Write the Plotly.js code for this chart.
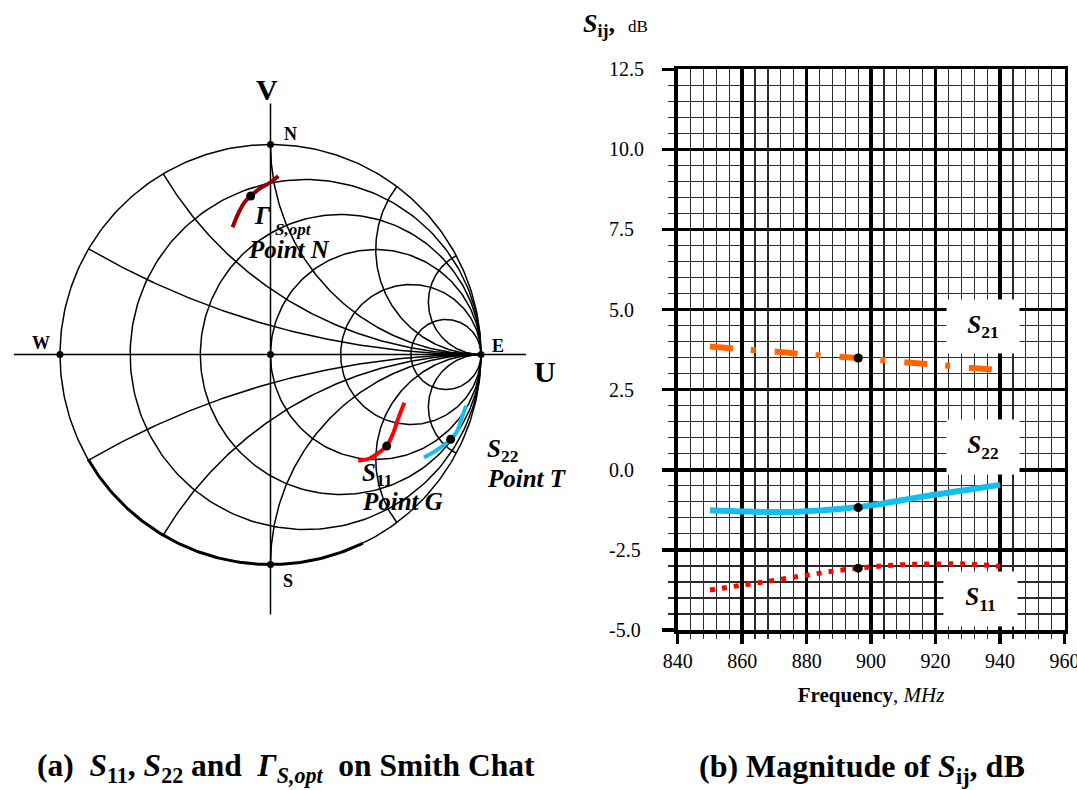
<!DOCTYPE html>
<html>
<head>
<meta charset="utf-8">
<script src="https://cdn.plot.ly/plotly-3.0.1.min.js"></script>
<style>
  html, body { margin: 0; padding: 0; background: #fff; }
  #chart { width: 1077px; height: 790px; }
</style>
</head>
<body>
<div id="chart"></div>
<script>
// ---------- Smith chart grid ----------
const resistanceCircles = [0.2, 0.5, 1, 2, 5];
const reactanceArcs = [0.27, 0.57, 1, 2, 4];

// compass points on the chart: N, S, E, W and the centre
const compassRe = [0, 0, 1, -1, 0];
const compassIm = [1, -1, 0, 0, 0];

// reflection-coefficient loci (real part, imaginary part)
const gammaOptRe = [-0.180, -0.153, -0.121, -0.094, -0.050, -0.002, 0.037];
const gammaOptIm = [0.606, 0.672, 0.728, 0.755, 0.791, 0.818, 0.850];
const s11Re = [0.417, 0.473, 0.520, 0.552, 0.583, 0.607, 0.636];
const s11Im = [-0.506, -0.494, -0.463, -0.436, -0.375, -0.304, -0.230];
const s22Re = [0.729, 0.790, 0.856, 0.885, 0.908, 0.929];
const s22Im = [-0.490, -0.455, -0.404, -0.368, -0.304, -0.245];

// operating points N (Gamma S,opt), G (S11), T (S22)
const pointRe = [-0.094, 0.552, 0.856];
const pointIm = [0.755, -0.436, -0.404];

// ---------- magnitude versus frequency ----------
const freqMHz = [850, 860, 870, 880, 890, 900, 910, 920, 930, 940];
const s21dB = [3.85, 3.76, 3.69, 3.60, 3.53, 3.46, 3.36, 3.28, 3.19, 3.11];
const s22dB = [-1.26, -1.30, -1.32, -1.29, -1.22, -1.11, -0.94, -0.77, -0.62, -0.47];
const s11dB = [-3.75, -3.60, -3.45, -3.29, -3.14, -3.03, -2.96, -2.94, -2.94, -3.01];

const markFreq = [896, 896, 896];
const markDB = [3.49, -1.18, -3.07];

const freqTicks = [840, 860, 880, 900, 920, 940, 960];
const dbTicks = [-5, -2.5, 0, 2.5, 5, 7.5, 10, 12.5];
const dbTickText = ['-5.0', '-2.5', '0.0', '2.5', '5.0', '7.5', '10.0', '12.5'];

// ---------- page geometry ----------
const W = 1077, H = 790;
const SERIF = "'Liberation Serif', 'Times New Roman', serif";
const px = v => v / W;          // pixel column -> paper x
const py = v => 1 - v / H;      // pixel row -> paper y

// Smith chart frame: centre pixel and pixels per unit of |Gamma|
const SC = { cx: 270.5, cy: 354.5, kx: 210.5, ky: 210, left: 0, right: 560, top: 70, bottom: 640 };

function arc(cx, cy, r, a0, a1, n) {
  const pts = [];
  for (let i = 0; i <= n; i++) {
    const a = a0 + (a1 - a0) * i / n;
    pts.push([cx + r * Math.cos(a), cy + r * Math.sin(a)]);
  }
  return pts;
}

const gridX = [], gridY = [];
function addPath(pts) {
  pts.forEach(p => { gridX.push(p[0]); gridY.push(p[1]); });
  gridX.push(null); gridY.push(null);
}
// outer boundary |Gamma| = 1
addPath(arc(0, 0, 1, 0, 2 * Math.PI, 360));
// constant-resistance circles
resistanceCircles.forEach(r => addPath(arc(r / (1 + r), 0, 1 / (1 + r), 0, 2 * Math.PI, 240)));
// constant-reactance arcs, from the rim to the open-circuit point
reactanceArcs.forEach(x => {
  const bx = (x * x - 1) / (x * x + 1), by = 2 * x / (x * x + 1);
  let a0 = Math.atan2(by - 1 / x, bx - 1);
  if (a0 < 0) a0 += 2 * Math.PI;
  const upper = arc(1, 1 / x, 1 / x, a0, 1.5 * Math.PI, 160);
  addPath(upper);
  addPath(upper.map(p => [p[0], -p[1]]));
});
// real (U) and imaginary (V) axes
const uAxisSpan = [-1.219, 1.214];
const vAxisSpan = [-1.238, 1.195];
addPath([[uAxisSpan[0], 0], [uAxisSpan[1], 0]]);
addPath([[0, vAxisSpan[0]], [0, vAxisSpan[1]]]);

const rimHeavy = arc(0, 0, 1, 210 * Math.PI / 180, 296 * Math.PI / 180, 120);

const traces = [
  { x: gridX, y: gridY, xaxis: 'x', yaxis: 'y', mode: 'lines', line: { color: '#000', width: 1.5 },
    hoverinfo: 'skip', showlegend: false },
  { x: rimHeavy.map(p => p[0]), y: rimHeavy.map(p => p[1]), xaxis: 'x', yaxis: 'y', mode: 'lines',
    line: { color: '#000', width: 3 }, hoverinfo: 'skip', showlegend: false },
  { x: compassRe, y: compassIm, xaxis: 'x', yaxis: 'y', mode: 'markers',
    marker: { color: '#000', size: 7 }, hoverinfo: 'skip', showlegend: false },
  { x: gammaOptRe, y: gammaOptIm, xaxis: 'x', yaxis: 'y', mode: 'lines', name: 'Γ S,opt',
    line: { color: '#990000', width: 4, shape: 'spline' }, showlegend: false },
  { x: s11Re, y: s11Im, xaxis: 'x', yaxis: 'y', mode: 'lines', name: 'S11',
    line: { color: '#ff0000', width: 4, shape: 'spline' }, showlegend: false },
  { x: s22Re, y: s22Im, xaxis: 'x', yaxis: 'y', mode: 'lines', name: 'S22',
    line: { color: '#13bff0', width: 4, shape: 'spline' }, showlegend: false },
  { x: pointRe, y: pointIm, xaxis: 'x', yaxis: 'y', mode: 'markers',
    marker: { color: '#000', size: 9 }, showlegend: false },

  { x: freqMHz, y: s21dB, xaxis: 'x2', yaxis: 'y2', mode: 'lines', name: 'S21',
    line: { color: '#ff6600', width: 6, dash: '23px,18px,5px,19px', shape: 'spline' }, showlegend: false },
  { x: freqMHz, y: s22dB, xaxis: 'x2', yaxis: 'y2', mode: 'lines', name: 'S22',
    line: { color: '#13bff0', width: 6, shape: 'spline' }, showlegend: false },
  { x: freqMHz, y: s11dB, xaxis: 'x2', yaxis: 'y2', mode: 'lines', name: 'S11',
    line: { color: '#ff0000', width: 5, dash: '5px,7px', shape: 'spline' }, showlegend: false },
  { x: markFreq, y: markDB, xaxis: 'x2', yaxis: 'y2', mode: 'markers',
    marker: { color: '#000', size: 9 }, showlegend: false }
];

const label = (t, size, x, y, extra) => Object.assign({
  text: t, xref: 'paper', yref: 'paper', x: px(x), y: py(y), showarrow: false,
  xanchor: 'center', yanchor: 'middle', font: { family: SERIF, size: size, color: '#000' }
}, extra || {});

const annotations = [
  // Smith chart letters
  label('<b>V</b>', 30, 267, 89),
  label('<b>U</b>', 30, 545, 371),
  label('<b>N</b>', 18, 291, 134),
  label('<b>E</b>', 18, 498, 346),
  label('<b>W</b>', 18, 41, 343),
  label('<b>S</b>', 18, 288, 581),
  label('<b><i>Γ</i></b>', 25, 252, 215, { xanchor: 'left' }),
  label('<b><i>S,opt</i></b>', 17, 273, 229, { xanchor: 'left' }),
  label('<b><i>Point N</i></b>', 25, 246, 249, { xanchor: 'left' }),
  label('<b><i>S</i><sub>11</sub></b>', 25, 360, 474, { xanchor: 'left' }),
  label('<b><i>Point G</i></b>', 25, 360, 501, { xanchor: 'left' }),
  label('<b><i>S</i><sub>22</sub></b>', 25, 485, 450, { xanchor: 'left' }),
  label('<b><i>Point T</i></b>', 25, 485, 478, { xanchor: 'left' }),

  // series labels on white panels
  label('<b><i>S</i><sub>21</sub></b>', 25, 982.5, 326.5, { bgcolor: '#fff', width: 72, height: 53, borderpad: 0 }),
  label('<b><i>S</i><sub>22</sub></b>', 25, 982.5, 447, { bgcolor: '#fff', width: 72, height: 54, borderpad: 0 }),
  label('<b><i>S</i><sub>11</sub></b>', 25, 980.5, 599, { bgcolor: '#fff', width: 73, height: 54, borderpad: 0 }),

  // value axis heading
  label('<b><i>S</i><sub>ij</sub>,</b>\u00a0 <span style="font-size:17px">dB</span>', 26, 581, 25, { xanchor: 'left' }),

  // panel captions
  label('<b>(a)\u00a0 <i>S</i><sub>11</sub>, <i>S</i><sub>22</sub> and\u00a0 <i>Γ</i><sub><i>S,opt</i></sub>\u00a0 on Smith Chat</b>', 31.5, 286, 768),
  label('<b>(b) Magnitude of <i>S</i><sub>ij</sub>, dB</b>', 32, 861.5, 768)
];

// value-axis labels, left aligned in their column
dbTicks.forEach((v, i) => {
  annotations.push({
    text: dbTickText[i], xref: 'paper', yref: 'y2', x: px(607), y: v, showarrow: false,
    xanchor: 'left', yanchor: 'middle', font: { family: SERIF, size: 20, color: '#000' }
  });
});

const major = { color: '#000', width: 3.5 };
const minor = { color: '#2a2a2a', width: 1.2 };

const layout = {
  width: W, height: H, autosize: false,
  margin: { l: 0, r: 0, t: 0, b: 0 },
  paper_bgcolor: '#fff', plot_bgcolor: 'rgba(0,0,0,0)',
  showlegend: false,
  xaxis: {
    domain: [px(SC.left), px(SC.right)],
    range: [(SC.left - SC.cx) / SC.kx, (SC.right - SC.cx) / SC.kx],
    visible: false, fixedrange: true
  },
  yaxis: {
    domain: [py(SC.bottom), py(SC.top)],
    range: [(SC.cy - SC.bottom) / SC.ky, (SC.cy - SC.top) / SC.ky],
    visible: false, fixedrange: true
  },
  xaxis2: {
    anchor: 'y2', domain: [px(677.7), px(1064.5)], range: [840, 960],
    tickmode: 'array', tickvals: freqTicks,
    showgrid: true, gridcolor: major.color, gridwidth: major.width,
    showline: true, mirror: true, linecolor: '#000', linewidth: major.width,
    ticks: 'outside', ticklen: 10, tickwidth: major.width, tickcolor: '#000',
    zeroline: false, ticklabeloverflow: 'allow',
    tickfont: { family: SERIF, size: 20, color: '#000' },
    minor: { tickmode: 'linear', tick0: 840, dtick: 4, showgrid: true,
             gridcolor: minor.color, gridwidth: minor.width,
             ticks: 'outside', ticklen: 5, tickwidth: minor.width, tickcolor: minor.color },
    title: { text: '<b>Frequency</b>, <i>MHz</i>', standoff: 18,
             font: { family: SERIF, size: 21, color: '#000' } },
    fixedrange: true
  },
  yaxis2: {
    anchor: 'x2', domain: [py(630), py(69.3)], range: [-5, 12.5],
    tickmode: 'array', tickvals: dbTicks, showticklabels: false,
    showgrid: true, gridcolor: major.color, gridwidth: major.width,
    showline: true, mirror: true, linecolor: '#000', linewidth: major.width,
    ticks: 'outside', ticklen: 12, tickwidth: major.width, tickcolor: '#000',
    zeroline: false,
    minor: { tickmode: 'linear', tick0: -5, dtick: 0.5, showgrid: true,
             gridcolor: minor.color, gridwidth: minor.width,
             ticks: 'outside', ticklen: 6, tickwidth: minor.width, tickcolor: minor.color },
    fixedrange: true
  },
  annotations: annotations
};

Plotly.newPlot('chart', traces, layout, { staticPlot: true, displayModeBar: false });
</script>
</body>
</html>
